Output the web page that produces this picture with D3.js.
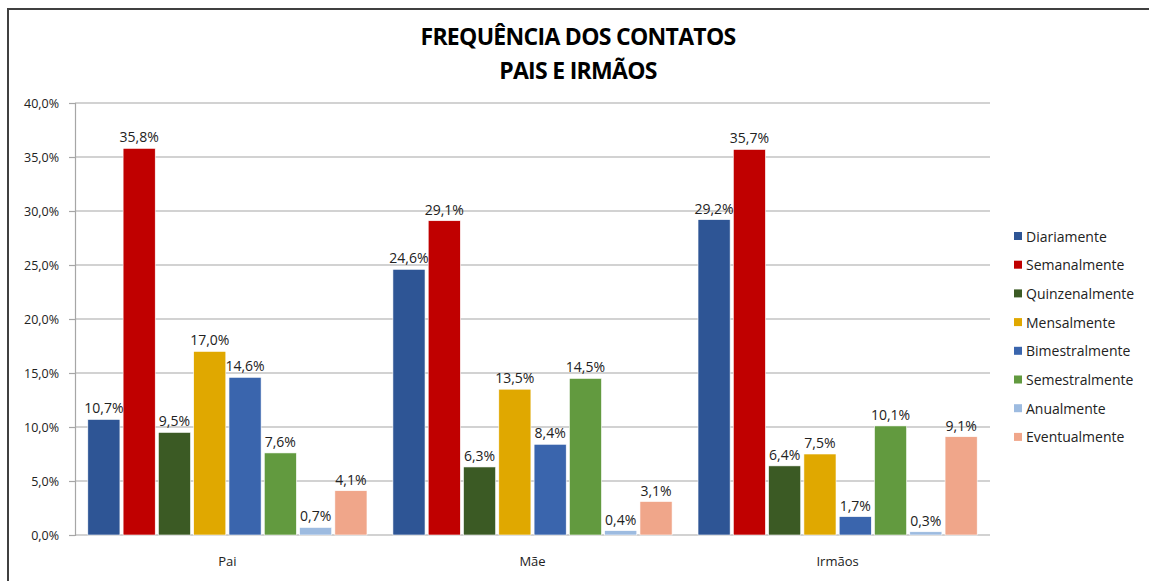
<!DOCTYPE html>
<html>
<head>
<meta charset="utf-8">
<script src="https://cdn.jsdelivr.net/npm/d3@7"></script>
<style>
  body { margin: 0; background: #fff; }
  svg { font-family: "Open Sans", "Liberation Sans", sans-serif; }
</style>
</head>
<body>
<div id="chart"></div>
<script>
const categories = ["Pai", "Mãe", "Irmãos"];
const seriesNames = ["Diariamente", "Semanalmente", "Quinzenalmente", "Mensalmente",
  "Bimestralmente", "Semestralmente", "Anualmente", "Eventualmente"];
const seriesColors = ["#2E5595", "#C00000", "#3B5A24", "#E0A800",
  "#3A65AD", "#629A3F", "#9DBBE0", "#F0A68A"];
// values per series, order: Pai, Mãe, Irmãos
const diariamente = [10.7, 24.6, 29.2];
const semanalmente = [35.8, 29.1, 35.7];
const quinzenalmente = [9.5, 6.3, 6.4];
const mensalmente = [17.0, 13.5, 7.5];
const bimestralmente = [14.6, 8.4, 1.7];
const semestralmente = [7.6, 14.5, 10.1];
const anualmente = [0.7, 0.4, 0.3];
const eventualmente = [4.1, 3.1, 9.1];
const yTicks = [0, 5, 10, 15, 20, 25, 30, 35, 40];

const seriesValues = [diariamente, semanalmente, quinzenalmente, mensalmente,
  bimestralmente, semestralmente, anualmente, eventualmente];

const width = 1149, height = 581;
const margin = { top: 103, right: 159, bottom: 46, left: 75 };
const innerW = width - margin.left - margin.right;
const innerH = height - margin.top - margin.bottom;

const fmt = v => v.toFixed(1).replace(".", ",") + "%";

const svg = d3.select("#chart").append("svg")
  .attr("width", width).attr("height", height);

// outer frame
svg.append("rect")
  .attr("x", 8).attr("y", 9)
  .attr("width", width + 10).attr("height", height + 10)
  .attr("fill", "none").attr("stroke", "#404040").attr("stroke-width", 2);

// title
svg.append("text")
  .attr("x", 578).attr("y", 45)
  .attr("text-anchor", "middle")
  .attr("font-size", 23).attr("font-weight", "bold")
  .attr("letter-spacing", -0.7)
  .text("FREQUÊNCIA DOS CONTATOS");
svg.append("text")
  .attr("x", 578).attr("y", 79)
  .attr("text-anchor", "middle")
  .attr("font-size", 23).attr("font-weight", "bold")
  .attr("letter-spacing", -0.7)
  .text("PAIS E IRMÃOS");

const g = svg.append("g").attr("transform", `translate(${margin.left},${margin.top})`);

const y = d3.scaleLinear().domain([0, 40]).range([innerH, 0]);
const x0 = d3.scaleBand().domain(categories).range([0, innerW]).paddingInner(0.085).paddingOuter(0.042);
const x1 = d3.scaleBand().domain(seriesNames).range([0, x0.bandwidth()]).paddingInner(0.09);

// gridlines
g.append("g")
  .selectAll("line")
  .data(yTicks)
  .enter()
  .append("line")
  .attr("x1", 0).attr("x2", innerW)
  .attr("y1", d => y(d)).attr("y2", d => y(d))
  .attr("stroke", "#A6A6A6").attr("stroke-width", 1.2);

// y axis
const yAxis = g.append("g")
  .call(d3.axisLeft(y).tickValues(yTicks).tickSize(6).tickPadding(10).tickFormat(d => fmt(d)));
yAxis.select(".domain").attr("stroke", "#A6A6A6").attr("stroke-width", 1.2);
yAxis.selectAll(".tick line").attr("stroke", "#A6A6A6").attr("stroke-width", 1.2);
yAxis.selectAll(".tick text").attr("font-size", 12.5).attr("fill", "#222")
  .attr("font-family", "'Open Sans', sans-serif");

// x labels
g.append("g")
  .selectAll("text")
  .data(categories)
  .enter()
  .append("text")
  .attr("x", d => x0(d) + x0.bandwidth() / 2)
  .attr("y", innerH + 31)
  .attr("text-anchor", "middle")
  .attr("font-size", 13).attr("fill", "#222")
  .text(d => d);

// bars
const rows = [];
categories.forEach((c, ci) => {
  seriesNames.forEach((s, si) => {
    rows.push({ cat: c, series: s, color: seriesColors[si], value: seriesValues[si][ci] });
  });
});

const bars = g.append("g");
bars.selectAll("rect")
  .data(rows)
  .enter()
  .append("rect")
  .attr("x", d => x0(d.cat) + x1(d.series))
  .attr("y", d => y(d.value))
  .attr("width", x1.bandwidth())
  .attr("height", d => innerH - y(d.value))
  .attr("fill", d => d.color)
  .attr("stroke", "#fff").attr("stroke-width", 0.6);

bars.selectAll("text")
  .data(rows)
  .enter()
  .append("text")
  .attr("x", d => x0(d.cat) + x1(d.series) + x1.bandwidth() / 2)
  .attr("y", d => y(d.value) - 6)
  .attr("text-anchor", "middle")
  .attr("font-size", 14).attr("fill", "#222")
  .text(d => fmt(d.value));

// legend
const legend = svg.append("g").attr("transform", "translate(1014,237)");
const items = legend.selectAll("g")
  .data(seriesNames)
  .enter()
  .append("g")
  .attr("transform", (d, i) => `translate(0,${i * 28.7})`);
items.append("rect")
  .attr("x", 0).attr("y", -5)
  .attr("width", 8).attr("height", 8)
  .attr("fill", (d, i) => seriesColors[i]);
items.append("text")
  .attr("x", 12).attr("y", 4.5)
  .attr("font-size", 14).attr("fill", "#222")
  .text(d => d);
</script>
</body>
</html>
